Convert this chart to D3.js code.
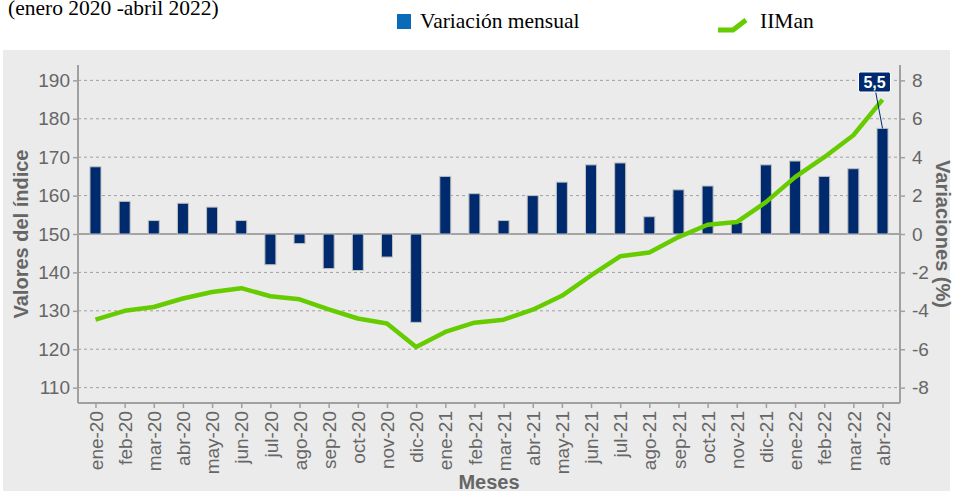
<!DOCTYPE html>
<html>
<head>
<meta charset="utf-8">
<script src="https://cdn.jsdelivr.net/npm/d3@7"></script>
<style>
  body { margin: 0; background: #fff; }
  text { font-family: Arial, "Liberation Sans", sans-serif; }
</style>
</head>
<body>
<script>
// months shown on the x axis
var months = ["ene-20","feb-20","mar-20","abr-20","may-20","jun-20","jul-20","ago-20","sep-20","oct-20","nov-20","dic-20",
              "ene-21","feb-21","mar-21","abr-21","may-21","jun-21","jul-21","ago-21","sep-21","oct-21","nov-21","dic-21",
              "ene-22","feb-22","mar-22","abr-22"];
// monthly variation (%) - bars, right axis
var variacion = [3.5,1.7,0.7,1.6,1.4,0.7,-1.6,-0.5,-1.8,-1.9,-1.2,-4.6,
                 3.0,2.1,0.7,2.0,2.7,3.6,3.7,0.9,2.3,2.5,0.6,3.6,
                 3.8,3.0,3.4,5.5];
// IIMan index - line, left axis
var iiman = [127.7,130.0,131.0,133.2,134.9,135.9,133.8,133.0,130.4,128.0,126.7,120.6,
             124.5,126.9,127.7,130.3,133.9,139.2,144.2,145.2,149.2,152.4,153.1,158.3,
             164.8,170.0,175.7,185.0];
var leftTicks = [110,120,130,140,150,160,170,180,190];
var rightTicks = [-8,-6,-4,-2,0,2,4,6,8];

var W = 954, H = 493;
var plot = {left: 78, right: 900, top: 65, bottom: 403};

var svg = d3.select("body").append("svg")
  .attr("width", W).attr("height", H);

// gray panel
svg.append("rect")
  .attr("x", 3).attr("y", 50).attr("width", 947).attr("height", 441)
  .attr("fill", "#ebebeb");

var xScale = d3.scalePoint().domain(months).range([plot.left, plot.right]).padding(0.6);
var yLeft = d3.scaleLinear().domain([106, 194]).range([plot.bottom, plot.top]);
var yRight = d3.scaleLinear().domain([-8.8, 8.8]).range([plot.bottom, plot.top]);

// grid lines
svg.append("g").selectAll("line")
  .data(leftTicks.filter(function(d){ return d != 150; }))
  .enter().append("line")
  .attr("x1", plot.left).attr("x2", plot.right)
  .attr("y1", function(d){ return yLeft(d); })
  .attr("y2", function(d){ return yLeft(d); })
  .attr("stroke", "#a0a0a0").attr("stroke-width", 1)
  .attr("stroke-dasharray", "3,3");

// zero line
svg.append("line")
  .attr("x1", plot.left).attr("x2", plot.right)
  .attr("y1", yRight(0)).attr("y2", yRight(0))
  .attr("stroke", "#8c8c8c").attr("stroke-width", 1.5);

// left axis
var gL = svg.append("g")
  .attr("transform", "translate(" + plot.left + ",0)")
  .call(d3.axisLeft(yLeft).tickValues(leftTicks).tickSize(5).tickPadding(3).tickFormat(function(d){ return d; }));
// right axis
var gR = svg.append("g")
  .attr("transform", "translate(" + plot.right + ",0)")
  .call(d3.axisRight(yRight).tickValues(rightTicks).tickSize(5).tickPadding(7).tickFormat(function(d){ return String(d); }));
// x axis
var gX = svg.append("g")
  .attr("transform", "translate(0," + plot.bottom + ")")
  .call(d3.axisBottom(xScale).tickSize(5).tickSizeOuter(0));
gX.selectAll("text")
  .attr("transform", "rotate(-90)")
  .attr("x", -8).attr("y", 0).attr("dy", "0.35em")
  .style("text-anchor", "end");

[gL, gR, gX].forEach(function(g){
  g.select(".domain").attr("stroke", "#a0a0a0").attr("stroke-width", 2);
  g.selectAll(".tick line").attr("stroke", "#a0a0a0").attr("stroke-width", 1.5);
  g.selectAll("text").attr("fill", "#666").style("font-size", "19px")
    .style("font-family", "Arial, 'Liberation Sans', sans-serif");
});
gL.select(".domain").attr("d", "M0," + plot.top + "V" + plot.bottom);
gR.select(".domain").attr("d", "M0," + plot.top + "V" + plot.bottom);
gX.select(".domain").attr("d", "M" + plot.left + ",0H" + plot.right);

// bars
var bw = 11;
svg.selectAll(".bar")
  .data(variacion)
  .enter().append("rect")
  .attr("class", "bar")
  .attr("x", function(d, i){ return xScale(months[i]) - bw / 2; })
  .attr("y", function(d){ return yRight(Math.max(0, d)); })
  .attr("width", bw)
  .attr("height", function(d){ return Math.abs(yRight(d) - yRight(0)); })
  .attr("fill", "#002a6e")
  .attr("stroke", "#c0c0c0").attr("stroke-width", 1);

// IIMan line
var line = d3.line()
  .x(function(d, i){ return xScale(months[i]); })
  .y(function(d){ return yLeft(d); });
svg.append("path")
  .datum(iiman)
  .attr("d", line)
  .attr("fill", "none")
  .attr("stroke", "#66cc00")
  .attr("stroke-width", 4.5)
  .attr("stroke-linejoin", "round");

// label on last bar
var last = variacion.length - 1;
var lx = xScale(months[last]), ly = yRight(variacion[last]);
svg.append("line")
  .attr("x1", lx - 7).attr("y1", 91)
  .attr("x2", lx).attr("y2", ly)
  .attr("stroke", "#002a6e").attr("stroke-width", 1);
svg.append("rect")
  .attr("x", lx - 24).attr("y", 72).attr("width", 32).attr("height", 20)
  .attr("rx", 2)
  .attr("fill", "#002a6e").attr("stroke", "#fff").attr("stroke-width", 1);
svg.append("text")
  .attr("x", lx - 8).attr("y", 88)
  .attr("text-anchor", "middle")
  .attr("fill", "#fff")
  .style("font-size", "16px").style("font-weight", "bold")
  .text(String(variacion[last]).replace(".", ","));

// axis titles
svg.append("text")
  .attr("transform", "translate(28," + ((plot.top + plot.bottom) / 2) + ") rotate(-90)")
  .attr("text-anchor", "middle")
  .attr("fill", "#666").style("font-size", "20px").style("font-weight", "bold")
  .text("Valores del índice");
svg.append("text")
  .attr("transform", "translate(936," + ((plot.top + plot.bottom) / 2) + ") rotate(90)")
  .attr("text-anchor", "middle")
  .attr("fill", "#666").style("font-size", "20px").style("font-weight", "bold")
  .text("Variaciones (%)");
svg.append("text")
  .attr("x", (plot.left + plot.right) / 2).attr("y", 489)
  .attr("text-anchor", "middle")
  .attr("fill", "#666").style("font-size", "20px").style("font-weight", "bold")
  .text("Meses");

// title and legend (serif)
svg.append("text")
  .attr("x", 8).attr("y", 15)
  .style("font-family", "'Liberation Serif', 'Times New Roman', serif")
  .style("font-size", "21.5px").attr("fill", "#000")
  .text("(enero 2020 -abril 2022)");
svg.append("rect")
  .attr("x", 397).attr("y", 14).attr("width", 14).attr("height", 15)
  .attr("fill", "#0a6cb9");
svg.append("text")
  .attr("x", 420).attr("y", 28)
  .style("font-family", "'Liberation Serif', 'Times New Roman', serif")
  .style("font-size", "21.5px").attr("fill", "#000")
  .text("Variación mensual");
svg.append("path")
  .attr("d", "M718,30L733,30L746,20")
  .attr("fill", "none").attr("stroke", "#66cc00").attr("stroke-width", 5);
svg.append("text")
  .attr("x", 760).attr("y", 28)
  .style("font-family", "'Liberation Serif', 'Times New Roman', serif")
  .style("font-size", "21.5px").attr("fill", "#000")
  .text("IIMan");
</script>
</body>
</html>
